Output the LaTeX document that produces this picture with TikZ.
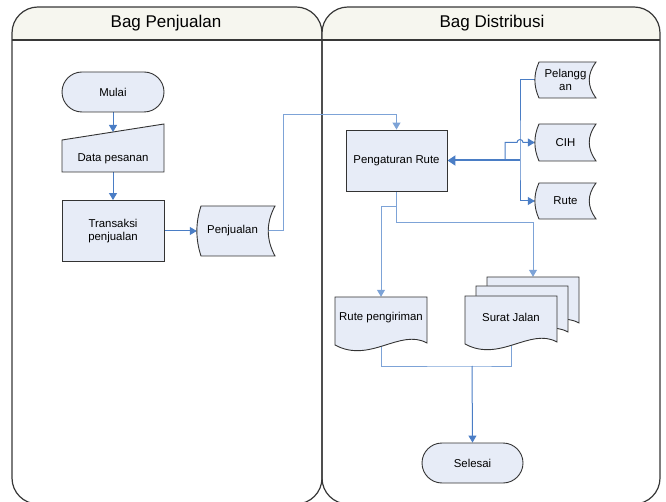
\documentclass[tikz,border=0pt]{standalone}
\usepackage{fontspec}
\setmainfont{Liberation Sans}
\usetikzlibrary{arrows.meta,backgrounds}

\definecolor{flowblue}{RGB}{74,125,197}
\definecolor{flowlight}{RGB}{125,163,215}
\definecolor{boxfill}{RGB}{231,236,247}
\definecolor{headfill}{RGB}{246,246,239}
\definecolor{lanegray}{RGB}{55,55,55}

\tikzset{
  lane/.style={draw=lanegray, line width=1.2pt},
  box/.style={draw=black!80, fill=boxfill, line width=0.9pt},
  lbl/.style={font=\fontsize{11.4}{13.5}\selectfont, align=center, inner sep=0pt},
  head/.style={font=\fontsize{17}{20}\selectfont, inner sep=0pt},
  proc/.style={box, lbl, rectangle, minimum width=102pt, minimum height=61pt},
  term/.style={box, lbl, rectangle, rounded corners=20pt, minimum width=102pt, minimum height=40pt},
  flow/.style={draw=flowblue, line width=1pt, -{Triangle[width=8pt,length=7pt]}},
  lightflow/.style={draw=flowlight, line width=1pt},
  thickflow/.style={draw=flowblue, line width=2pt, -{Triangle[width=10pt,length=8pt]}},
}

% stored data: centre x, centre y, width, height
\newcommand{\storeshape}[4]{%
  \draw[box] (#1-#3/2+4,#2-#4/2) -- (#1+#3/2,#2-#4/2)
    .. controls (#1+#3/2-9,#2-#4/6) and (#1+#3/2-9,#2+#4/6) .. (#1+#3/2,#2+#4/2)
    -- (#1-#3/2+4,#2+#4/2)
    .. controls (#1-#3/2-1.5,#2+#4/6) and (#1-#3/2-1.5,#2-#4/6) .. cycle;}
% document: left, top, width
\newcommand{\docshape}[3]{%
  \draw[box] (#1,#2) -- (#1+#3,#2) -- (#1+#3,#2+46)
    .. controls (#1+#3-27,#2+31) and (#1+35,#2+67) .. (#1,#2+48) -- cycle;}

\begin{document}
\begin{tikzpicture}[x=1pt,y=-1pt]
    \useasboundingbox (0,0) rectangle (666,502);
    % swimlanes
    \begin{scope}[on background layer]
        \clip (0,0) rectangle (666,502);
        \foreach \xa/\xb in {12/322, 322/660} {
            \begin{scope}
                \clip[rounded corners=26pt] (\xa,7) rectangle (\xb,504);
                \fill[headfill] (\xa,7) rectangle (\xb,40);
            \end{scope}
            \draw[lane] (\xa,40) -- (\xb,40);
            \draw[lane, rounded corners=26pt] (\xa,7) rectangle (\xb,504);
        }
    \end{scope}
    \node[head] (lanejual) at (166,23) {Bag Penjualan};
    \node[head] (lanedist) at (492,23) {Bag Distribusi};

    % Bag Penjualan
    \node[term] (mulai) at (113,92) {Mulai};
    \draw[box] (62,140) -- (164,124) -- (164,172) -- (62,172) -- cycle;
    \node[lbl, minimum width=102pt, minimum height=26pt] (dpsn) at (113,159) {Data pesanan};
    \coordinate (dpsntop) at (113,132);
    \node[proc] (trans) at (113,231) {Transaksi\\penjualan};
    \storeshape{236}{231}{78}{50}
    \node[lbl, minimum width=71pt, minimum height=50pt] (penj) at (232.5,231) {Penjualan};

    % Bag Distribusi
    \node[proc, minimum width=101pt] (peng) at (396.5,160.5) {Pengaturan Rute};
    \storeshape{565.5}{80}{61}{36}
    \node[lbl, minimum width=61pt, minimum height=36pt] (pel) at (565.5,80) {Pelangg\\an};
    \storeshape{565.5}{142.5}{61}{37}
    \node[lbl, minimum width=61pt, minimum height=37pt] (cih) at (565.5,142.5) {CIH};
    \storeshape{565.5}{201}{61}{36}
    \node[lbl, minimum width=61pt, minimum height=36pt] (rute) at (565.5,201) {Rute};

    \docshape{335}{297}{92}
    \node[lbl, minimum width=92pt, minimum height=42pt] (rpeng) at (381,318) {Rute pengiriman};
    \foreach \L/\T in {487/277, 476/286, 465/296} {
        \docshape{\L}{\T}{92}
    }
    \node[lbl, minimum width=92pt, minimum height=42pt] (sj) at (511,317) {Surat Jalan};
    \node[minimum width=92pt, minimum height=42pt, inner sep=0pt] (sjback) at (533,298) {};

    \node[term, minimum width=101pt] (sel) at (472.5,463) {Selesai};

    % connectors
    \coordinate (hub) at (520,160.5);
    \coordinate (cihjoin) at (505,160.5);
    \coordinate (merge) at (472,366);
    \begin{scope}[on background layer]
        \draw[flow] (mulai) -- (dpsntop);
        \draw[flow] (dpsn) -- (trans);
        \draw[flow] (trans) -- (penj);
        \draw[flow, draw=flowlight] (penj.east) -- ++(15,0) |- ([yshift=15pt]peng.north) -- (peng.north);
        \draw[flow] (pel.west) -| (hub) |- (rute.west);
        \draw[flow] (cihjoin) -- (cihjoin |- cih.west) -- ++(12,0)
            arc[start angle=180, end angle=360, radius=3] -- (cih.west);
        \draw[thickflow] (hub) -- (peng.east);
        \draw[flow, draw=flowlight] (peng.south) -- ++(0,15) -| (rpeng.north);
        \draw[flow, draw=flowlight] (peng.south) -- ++(0,31) -| (sjback.north);
        \draw[lightflow] (rpeng.south) |- (merge) -| (sj.south);
        \draw[flow] (merge) -- (sel.north);
    \end{scope}
\end{tikzpicture}
\end{document}
